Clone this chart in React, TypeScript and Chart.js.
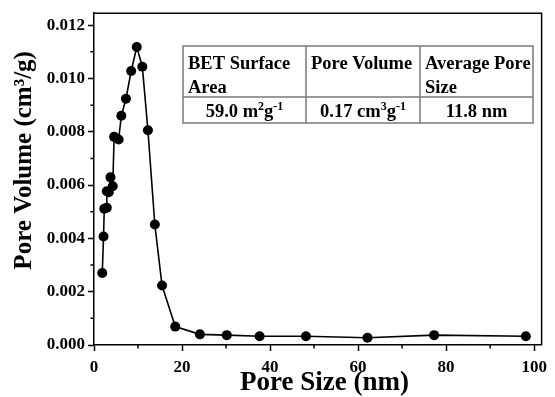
import React, { useEffect, useRef } from "react";
import { Chart, registerables } from "chart.js";

Chart.register(...registerables);

// ---- data ----
const poreSize = [1.88, 2.17, 2.33, 2.91, 2.91, 3.36, 3.74, 4.26, 4.57, 5.6, 6.2, 7.26, 8.45, 9.72, 10.98, 12.25, 13.82, 15.46, 18.46, 24.06, 30.17, 37.63, 48.16, 62.14, 77.28, 98.12];
const poreVolume = [0.0027, 0.00407, 0.00511, 0.00515, 0.00577, 0.00573, 0.00629, 0.00596, 0.00781, 0.00771, 0.0086, 0.00924, 0.01028, 0.01118, 0.01044, 0.00806, 0.00452, 0.00223, 0.00069, 0.0004, 0.00037, 0.00033, 0.00033, 0.00027, 0.00037, 0.00033];

const xMajorTicks = [0, 20, 40, 60, 80, 100];
const xMinorTicks = [10, 30, 50, 70, 90];
const yMajorTicks = [0, 0.002, 0.004, 0.006, 0.008, 0.01, 0.012];
const yMinorTicks = [0.001, 0.003, 0.005, 0.007, 0.009, 0.011];

const xTitle = "  Pore Size (nm)";
const yTitle = "      Pore Volume (cm³/g)";

const tableHeaders = [["BET Surface", "Area"], ["Pore Volume"], ["Average Pore", "Size"]];
const tableValues = [
  [{ t: "59.0 m" }, { t: "2", sup: true }, { t: "g" }, { t: "-1", sup: true }],
  [{ t: "0.17 cm" }, { t: "3", sup: true }, { t: "g" }, { t: "-1", sup: true }],
  [{ t: "11.8 nm" }],
];

const FONT = "'Liberation Serif', 'Times New Roman', serif";

const framePlugin = {
  id: "frameAndTable",
  afterDraw(chart: any) {
    const { ctx, chartArea: a, scales } = chart;
    ctx.save();
    ctx.strokeStyle = "#000";
    ctx.lineWidth = 1.5;
    // top and right frame
    ctx.beginPath();
    ctx.moveTo(a.left, a.top);
    ctx.lineTo(a.right, a.top);
    ctx.lineTo(a.right, a.bottom);
    ctx.stroke();
    // minor ticks
    ctx.beginPath();
    xMinorTicks.forEach((v) => {
      const px = scales.x.getPixelForValue(v);
      ctx.moveTo(px, a.bottom);
      ctx.lineTo(px, a.bottom + 3.5);
    });
    yMinorTicks.forEach((v) => {
      const py = scales.y.getPixelForValue(v);
      ctx.moveTo(a.left, py);
      ctx.lineTo(a.left - 3.5, py);
    });
    ctx.stroke();

    // table
    const colX = [183, 306, 420, 533];
    const rowY = [46, 97, 123];
    ctx.fillStyle = "#fff";
    ctx.fillRect(colX[0], rowY[0], colX[3] - colX[0], rowY[2] - rowY[0]);
    ctx.strokeStyle = "#7a7a7a";
    ctx.lineWidth = 1.5;
    ctx.strokeRect(colX[0], rowY[0], colX[3] - colX[0], rowY[2] - rowY[0]);
    ctx.beginPath();
    ctx.moveTo(colX[0], rowY[1]);
    ctx.lineTo(colX[3], rowY[1]);
    for (let i = 1; i < 3; i++) {
      ctx.moveTo(colX[i], rowY[0]);
      ctx.lineTo(colX[i], rowY[2]);
    }
    ctx.stroke();

    ctx.fillStyle = "#000";
    ctx.textBaseline = "alphabetic";
    ctx.textAlign = "left";
    const mainFont = `bold 18.5px ${FONT}`;
    const supFont = `bold 12px ${FONT}`;
    tableHeaders.forEach((lines, c) => {
      ctx.font = mainFont;
      lines.forEach((ln, i) => {
        ctx.fillText(ln, colX[c] + 5, 69 + i * 24);
      });
    });
    tableValues.forEach((runs, c) => {
      let w = 0;
      runs.forEach((r: any) => {
        ctx.font = r.sup ? supFont : mainFont;
        w += ctx.measureText(r.t).width;
      });
      let x = (colX[c] + colX[c + 1]) / 2 - w / 2;
      const base = 117;
      runs.forEach((r: any) => {
        ctx.font = r.sup ? supFont : mainFont;
        ctx.fillText(r.t, x, r.sup ? base - 7 : base);
        x += ctx.measureText(r.t).width;
      });
    });
    ctx.restore();
  },
};

export default function App() {
  const ref = useRef<HTMLCanvasElement>(null);
  useEffect(() => {
    document.body.style.margin = "0";
    const canvas = ref.current!;
    const chart = new Chart(canvas, {
      type: "line",
      data: {
        datasets: [
          {
            data: poreSize.map((x, i) => ({ x, y: poreVolume[i] })),
            borderColor: "#000",
            borderWidth: 1.6,
            pointRadius: 5,
            pointBackgroundColor: "#000",
            pointBorderColor: "#000",
            pointBorderWidth: 0,
            tension: 0,
            fill: false,
          },
        ],
      },
      options: {
        responsive: false,
        animation: false,
        layout: { padding: { top: 12, right: 7, left: 0, bottom: 0 } },
        plugins: { legend: { display: false }, tooltip: { enabled: false } },
        scales: {
          x: {
            type: "linear",
            min: 0,
            max: 101.7,
            afterBuildTicks: (s: any) => {
              s.ticks = xMajorTicks.map((v) => ({ value: v }));
            },
            afterFit: (s: any) => {
              s.height = 52;
            },
            border: { display: true, color: "#000", width: 1.5 },
            grid: {
              display: true,
              drawOnChartArea: false,
              drawTicks: true,
              tickLength: 6,
              tickWidth: 1.5,
              tickColor: "#000",
            },
            ticks: {
              autoSkip: false,
              maxRotation: 0,
              padding: 8,
              color: "#000",
              font: { family: FONT, size: 17, weight: "bold", lineHeight: 1 },
              callback: (v: any) => String(v),
            },
            title: {
              display: true,
              text: xTitle,
              color: "#000",
              padding: { top: 0, bottom: 0 },
              font: { family: FONT, size: 27, weight: "bold", lineHeight: 1 },
            },
          },
          y: {
            type: "linear",
            min: 0,
            max: 0.01245,
            afterBuildTicks: (s: any) => {
              s.ticks = yMajorTicks.map((v) => ({ value: v }));
            },
            afterFit: (s: any) => {
              s.width = 94;
            },
            border: { display: true, color: "#000", width: 1.5 },
            grid: {
              display: true,
              drawOnChartArea: false,
              drawTicks: true,
              tickLength: 6,
              tickWidth: 1.5,
              tickColor: "#000",
            },
            ticks: {
              autoSkip: false,
              padding: 3,
              color: "#000",
              font: { family: FONT, size: 17, weight: "bold" },
              callback: (v: any) => Number(v).toFixed(3),
            },
            title: {
              display: true,
              text: yTitle,
              color: "#000",
              padding: { top: 12, bottom: 0 },
              font: { family: FONT, size: 25, weight: "bold", lineHeight: 1 },
            },
          },
        },
      },
      plugins: [framePlugin],
    } as any);
    return () => chart.destroy();
  }, []);
  return <canvas ref={ref} width={555} height={397} style={{ display: "block" }} />;
}
